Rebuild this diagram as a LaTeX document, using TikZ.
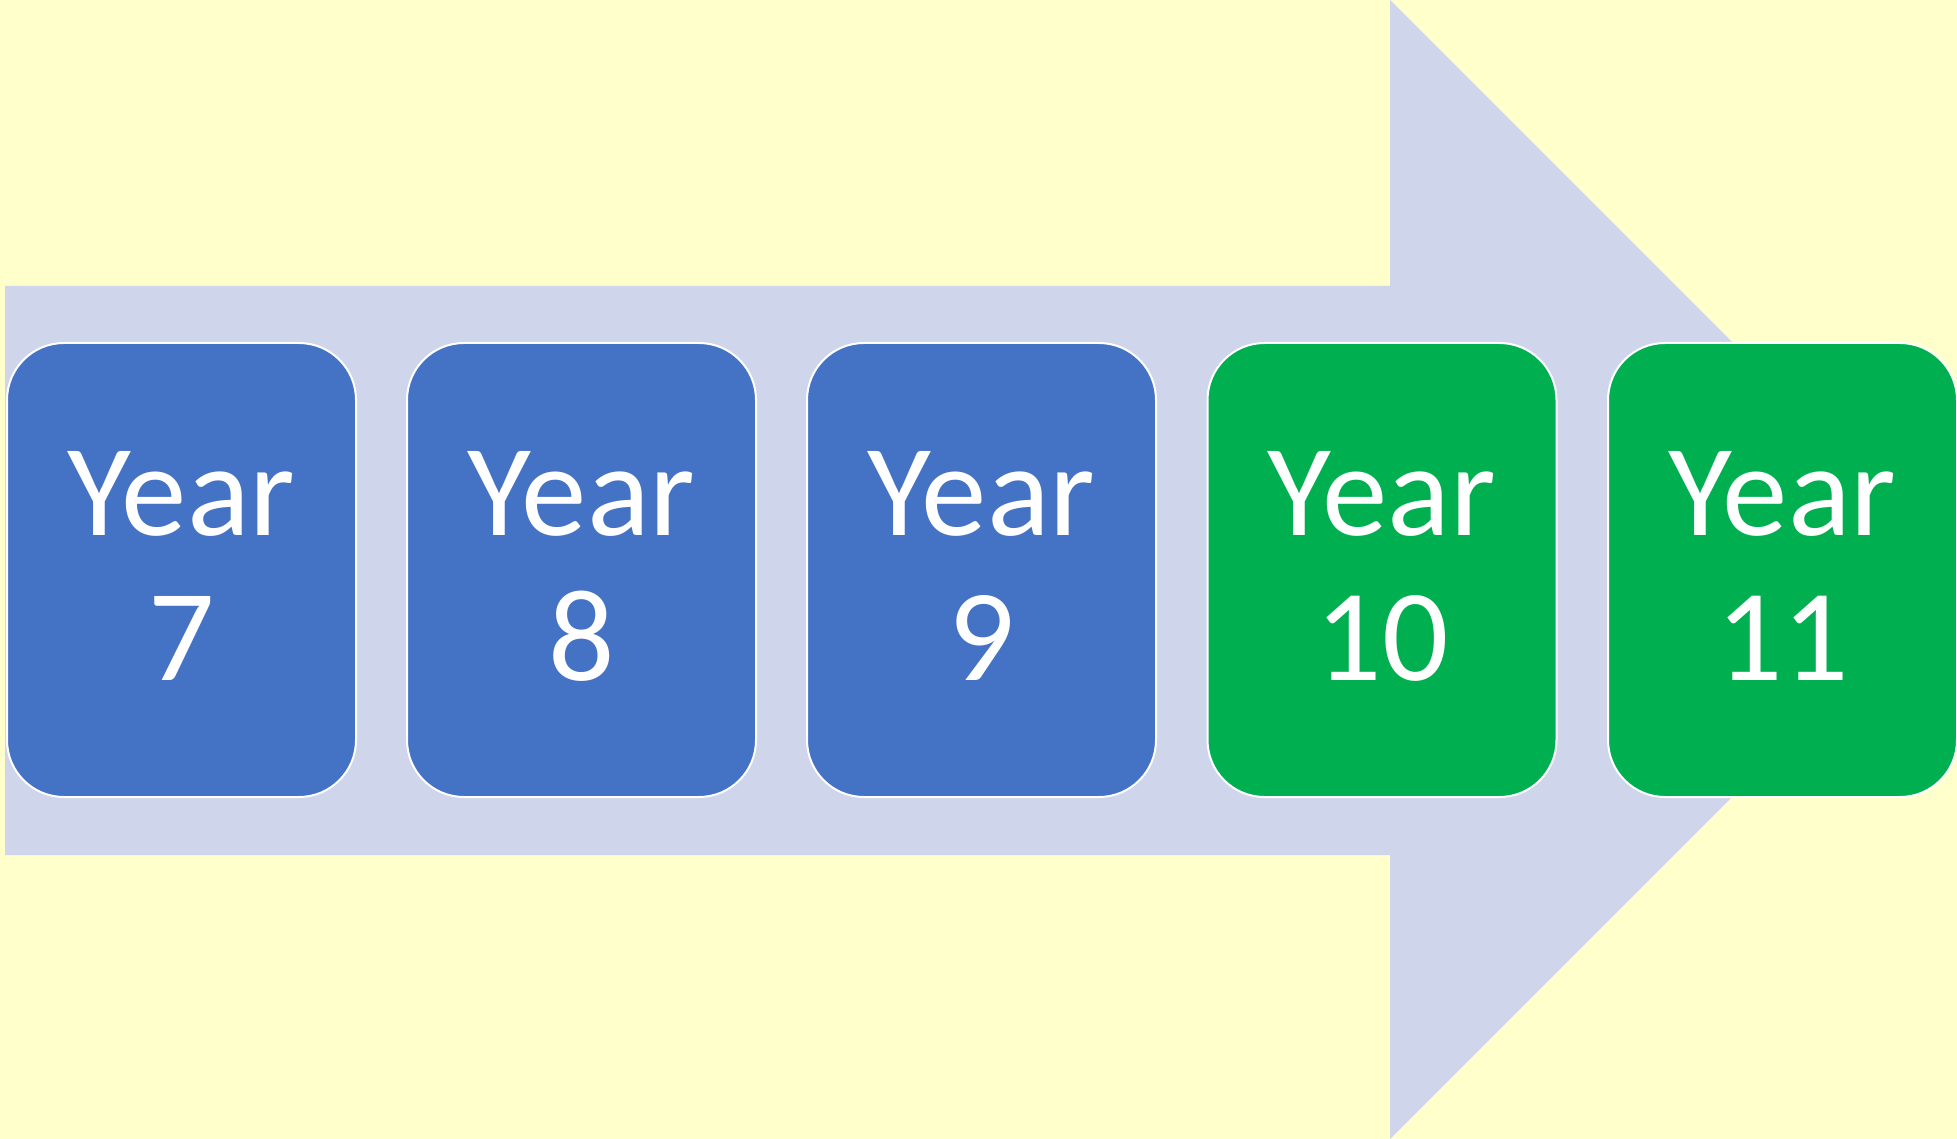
\documentclass[tikz,border=0pt]{standalone}
\usepackage{fontspec}
\setmainfont{Carlito}
\definecolor{bgyellow}{HTML}{FFFFCC}
\definecolor{arrowfill}{HTML}{CFD5EA}
\definecolor{boxblue}{HTML}{4472C4}
\definecolor{boxgreen}{HTML}{00B050}
\begin{document}
\begin{tikzpicture}[x=1pt,y=-1pt,
  yearbox/.style={draw=white, line width=2pt, rounded corners=57pt,
    minimum width=349pt, minimum height=454pt, inner sep=0pt},
  yeartext/.style={text=white, anchor=base, inner sep=0pt,
    font=\fontsize{131}{145}\selectfont}]
\useasboundingbox (0,0) rectangle (1957,1139);
\clip (0,0) rectangle (1957,1139);
\fill[bgyellow] (0,0) rectangle (1957,1139);
\fill[arrowfill] (5,286) -- (1390,286) -- (1390,0) -- (1959.5,569.5)
  -- (1390,1139) -- (1390,855) -- (5,855) -- cycle;
\node[yearbox, fill=boxblue]  (b7)  at (181.5,570) {};
\node[yearbox, fill=boxblue]  (b8)  at (581.5,570) {};
\node[yearbox, fill=boxblue]  (b9)  at (981.5,570) {};
\node[yearbox, fill=boxgreen] (b10) at (1382,570) {};
\node[yearbox, fill=boxgreen] (b11) at (1782.5,570) {};
\node[yeartext] (y7)  at (181.5,535) {Year};
\node[yeartext] (n7)  at (181.5,680) {7};
\node[yeartext] (y8)  at (581.5,535) {Year};
\node[yeartext] (n8)  at (581.5,680) {8};
\node[yeartext] (y9)  at (981.5,535) {Year};
\node[yeartext] (n9)  at (981.5,680) {9};
\node[yeartext] (y10) at (1382,535) {Year};
\node[yeartext] (n10) at (1382,680) {10};
\node[yeartext] (y11) at (1782.5,535) {Year};
\node[yeartext] (n11) at (1782.5,680) {11};
\end{tikzpicture}
\end{document}
